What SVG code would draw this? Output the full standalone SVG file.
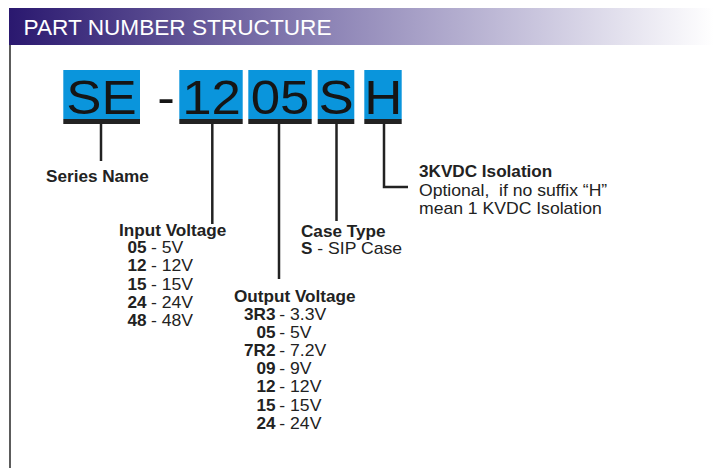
<svg xmlns="http://www.w3.org/2000/svg" width="714" height="468" viewBox="0 0 714 468">
<defs>
<linearGradient id="hdr" x1="0" y1="0" x2="1" y2="0">
<stop offset="0" stop-color="#2a186f"/>
<stop offset="0.45" stop-color="#8c83b5"/>
<stop offset="0.75" stop-color="#cac6de"/>
<stop offset="1" stop-color="#ffffff"/>
</linearGradient>
</defs>
<style>
.big{font-family:"Liberation Sans",Arial,sans-serif;font-size:48px;fill:#151515;text-anchor:middle}
.b{font-family:"Liberation Sans",Arial,sans-serif;font-size:15.6px;font-weight:bold;fill:#222}
.r{font-family:"Liberation Sans",Arial,sans-serif;font-size:16px;font-weight:normal;fill:#222}
.end{text-anchor:end}
.box{fill:#0a95dc}
.bar{fill:#222}
.ln{stroke:#222;stroke-width:2.5;fill:none}
.title{font-family:"Liberation Sans",Arial,sans-serif;font-size:21.5px;fill:#ffffff}
</style>

<g id="header">
<rect x="9" y="8" width="705" height="37" fill="url(#hdr)"/>
<text class="title" x="23.5" y="34.5" textLength="308" lengthAdjust="spacingAndGlyphs">PART NUMBER STRUCTURE</text>
<line x1="10" y1="45" x2="10" y2="468" stroke="#333" stroke-width="1.6"/>
</g>

<g id="code-SE">
<rect class="box" x="63.3" y="70" width="76.7" height="49"/>
<rect class="bar" x="63.3" y="119" width="76.7" height="5"/>
<g transform="translate(101.5,114) scale(1.1,1)"><text class="big">SE</text></g>
</g>
<g id="code-dash">
<g transform="translate(166,114) scale(1.1,1)"><text class="big">-</text></g>
</g>
<g id="code-12">
<rect class="box" x="179.3" y="70" width="63.4" height="49"/>
<rect class="bar" x="179.3" y="119" width="63.4" height="5"/>
<g transform="translate(211.5,114) scale(1.1,1)"><text class="big">12</text></g>
</g>
<g id="code-05">
<rect class="box" x="248.3" y="70" width="63.4" height="49"/>
<rect class="bar" x="248.3" y="119" width="63.4" height="5"/>
<g transform="translate(280,114) scale(1.1,1)"><text class="big">05</text></g>
</g>
<g id="code-S">
<rect class="box" x="317.7" y="70" width="36.6" height="49"/>
<rect class="bar" x="317.7" y="119" width="36.6" height="5"/>
<g transform="translate(336,114) scale(1.1,1)"><text class="big">S</text></g>
</g>
<g id="code-H">
<rect class="box" x="364.3" y="70" width="37.4" height="49"/>
<rect class="bar" x="364.3" y="119" width="37.4" height="5"/>
<g transform="translate(383.2,114) scale(1.1,1)"><text class="big">H</text></g>
</g>

<g id="connectors">
<line class="ln" x1="101" y1="124" x2="101" y2="161"/>
<line class="ln" x1="212.3" y1="124" x2="212.3" y2="224"/>
<line class="ln" x1="279" y1="124" x2="279" y2="279"/>
<line class="ln" x1="336.5" y1="124" x2="336.5" y2="221"/>
<polyline class="ln" points="384,124 384,187 408,187"/>
</g>

<g id="label-series">
<g transform="translate(46,181.5) scale(1.1,1)"><text class="b">Series Name</text></g>
</g>

<g id="label-input">
<g transform="translate(119,236) scale(1.1,1)"><text class="b">Input Voltage</text></g>
<g transform="translate(146.5,253) scale(1.1,1)"><text class="b end">05</text><text class="r" x="4">- 5V</text></g>
<g transform="translate(146.5,271.3) scale(1.1,1)"><text class="b end">12</text><text class="r" x="4">- 12V</text></g>
<g transform="translate(146.5,289.6) scale(1.1,1)"><text class="b end">15</text><text class="r" x="4">- 15V</text></g>
<g transform="translate(146.5,308) scale(1.1,1)"><text class="b end">24</text><text class="r" x="4">- 24V</text></g>
<g transform="translate(146.5,326.3) scale(1.1,1)"><text class="b end">48</text><text class="r" x="4">- 48V</text></g>
</g>

<g id="label-output">
<g transform="translate(234,302) scale(1.1,1)"><text class="b">Output Voltage</text></g>
<g transform="translate(275.5,320) scale(1.1,1)"><text class="b end">3R3</text><text class="r" x="3.5">- 3.3V</text></g>
<g transform="translate(275.5,338) scale(1.1,1)"><text class="b end">05</text><text class="r" x="3.5">- 5V</text></g>
<g transform="translate(275.5,356) scale(1.1,1)"><text class="b end">7R2</text><text class="r" x="3.5">- 7.2V</text></g>
<g transform="translate(275.5,374.2) scale(1.1,1)"><text class="b end">09</text><text class="r" x="3.5">- 9V</text></g>
<g transform="translate(275.5,392.4) scale(1.1,1)"><text class="b end">12</text><text class="r" x="3.5">- 12V</text></g>
<g transform="translate(275.5,410.6) scale(1.1,1)"><text class="b end">15</text><text class="r" x="3.5">- 15V</text></g>
<g transform="translate(275.5,428.8) scale(1.1,1)"><text class="b end">24</text><text class="r" x="3.5">- 24V</text></g>
</g>

<g id="label-case">
<g transform="translate(301,237.3) scale(1.1,1)"><text class="b">Case Type</text></g>
<g transform="translate(301,254) scale(1.1,1)"><text class="b">S<tspan class="r"> - SIP Case</tspan></text></g>
</g>

<g id="label-isolation">
<g transform="translate(419,177.3) scale(1.1,1)"><text class="b">3KVDC Isolation</text></g>
<g transform="translate(419,195.5) scale(1.1,1)"><text class="r" xml:space="preserve">Optional,  if no suffix “H”</text></g>
<g transform="translate(419,213.5) scale(1.1,1)"><text class="r">mean 1 KVDC Isolation</text></g>
</g>
</svg>
